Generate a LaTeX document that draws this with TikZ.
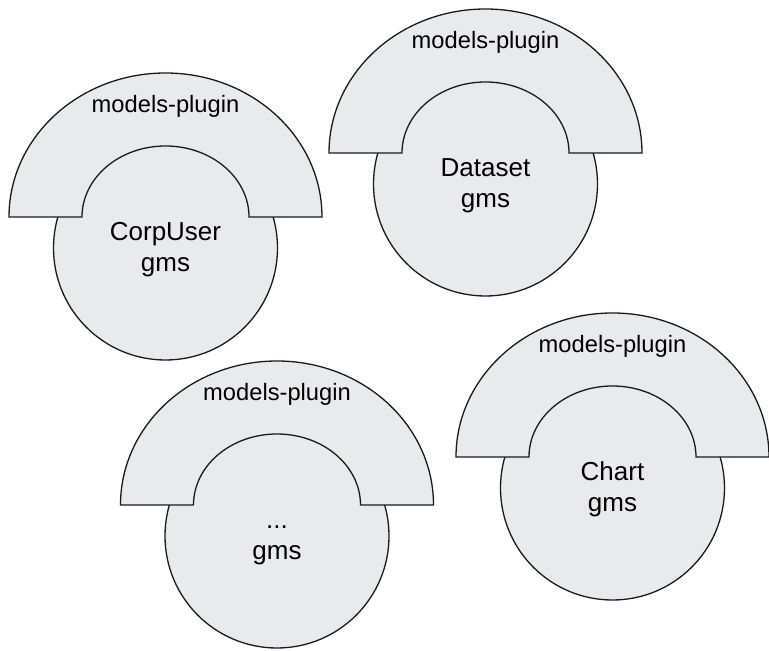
\documentclass[tikz,border=0pt]{standalone}
\usepackage{fontspec}
\setmainfont{Liberation Sans}
\definecolor{shapefill}{HTML}{E8EAEB}
\definecolor{shapeline}{HTML}{1A1A1A}
\tikzset{
  gmscircle/.style={circle, draw=shapeline, fill=shapefill, line width=1.3pt, minimum size=224pt, inner sep=0pt},
  archstyle/.style={draw=shapeline, fill=shapefill, line width=1.3pt, line join=miter},
  plugtext/.style={anchor=base, inner sep=0pt, font=\fontsize{23.7}{28}\selectfont},
  gmstext/.style={anchor=base, inner sep=0pt, font=\fontsize{26}{31}\selectfont}
}
\newcommand{\gmsunit}[4]{%
  \begin{scope}[shift={(#2,#3)}]
    \node[gmscircle] (#1c) at (0,-31) {};
    \path[archstyle] (-156.5,0) arc[start angle=180, end angle=0, x radius=156.5, y radius=144]
      -- (83.5,0) arc[start angle=0, end angle=180, x radius=83.5, y radius=71] -- cycle;
    \node[plugtext] (#1p) at (0,104) {models-plugin};
    \node[gmstext] (#1n) at (0,-24) {#4};
    \node[gmstext] (#1g) at (0,-55) {gms};
  \end{scope}}
\begin{document}
\begin{tikzpicture}[x=1pt, y=1pt]
  \useasboundingbox (0,0) rectangle (769,651);
  \gmsunit{corp}{165.5}{434}{CorpUser}
  \gmsunit{data}{485.5}{498}{Dataset}
  \gmsunit{more}{277}{146}{...}
  \gmsunit{chart}{612.5}{194}{Chart}
\end{tikzpicture}
\end{document}
